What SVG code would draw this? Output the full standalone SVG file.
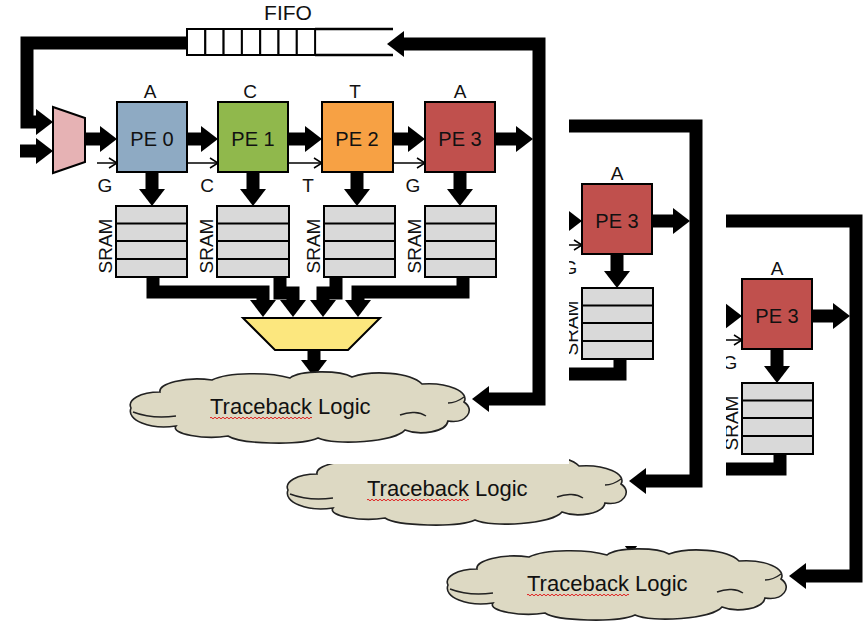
<svg xmlns="http://www.w3.org/2000/svg" xmlns:xlink="http://www.w3.org/1999/xlink" width="864" height="621" viewBox="0 0 864 621">
  <defs>
    <style>
      .big { fill: none; stroke: #000; stroke-width: 13; stroke-linejoin: miter; }
      .thin { fill: none; stroke: #000; stroke-width: 1.5; }
      .box { stroke: #000; stroke-width: 2; }
      .cell { fill: #fff; stroke: #000; stroke-width: 2; }
      .rail { fill: none; stroke: #000; stroke-width: 2.5; }
      .row { stroke: #000; stroke-width: 2; }
      .txt { font-family: "Liberation Sans", Arial, Helvetica, sans-serif; fill: #111; }
      .pe { font-size: 20px; text-anchor: middle; }
      .sym { font-size: 19px; text-anchor: middle; }
      .mem { font-size: 19px; text-anchor: middle; }
      .cloud { fill: #ddd9c3; stroke: #222; stroke-width: 1.6; }
      .crease { fill: none; stroke: #222; stroke-width: 1.4; }
      .squiggle { fill: none; stroke: #e02020; stroke-width: 1; }
    </style>
    <marker id="head" markerUnits="userSpaceOnUse" markerWidth="17" markerHeight="26" viewBox="0 0 17 26" refX="1" refY="13" orient="auto-start-reverse">
      <path d="M0,0 L17,13 L0,26 Z" fill="#000"/>
    </marker>
    <marker id="tip" markerUnits="userSpaceOnUse" markerWidth="10" markerHeight="12" viewBox="0 0 10 12" refX="9" refY="6" orient="auto">
      <path d="M1,1 L9,6 L1,11" fill="none" stroke="#000" stroke-width="1.5"/>
    </marker>
  </defs>

  <!-- stacked copies of the array stage, back to front -->
  <use xlink:href="#stage" href="#stage" transform="translate(317,177)"/>
  <use xlink:href="#stage" href="#stage" transform="translate(157,82)"/>

  <g id="stage">
    <rect x="0" y="0" width="569" height="464" fill="#fff"/>

    <g id="connectors">
      <!-- loop back from FIFO and second input into the input mux -->
      <path class="big" d="M188,43 H27 V122 H37" marker-end="url(#head)"/>
      <path class="big" d="M20,151 H37" marker-end="url(#head)"/>
      <!-- systolic data path -->
      <path class="big" d="M85,139 H101" marker-end="url(#head)"/>
      <path class="big" d="M187,139 H202" marker-end="url(#head)"/>
      <path class="big" d="M288,139 H306" marker-end="url(#head)"/>
      <path class="big" d="M393,139 H409" marker-end="url(#head)"/>
      <path class="big" d="M495,139 H517" marker-end="url(#head)"/>
      <!-- feedback to FIFO and traceback -->
      <path class="big" d="M488,399 H539 V44 H403" marker-start="url(#head)" marker-end="url(#head)"/>
      <!-- PE to SRAM -->
      <path class="big" d="M152,172 V190" marker-end="url(#head)"/>
      <path class="big" d="M253,172 V190" marker-end="url(#head)"/>
      <path class="big" d="M357,172 V190" marker-end="url(#head)"/>
      <path class="big" d="M460,172 V190" marker-end="url(#head)"/>
      <!-- SRAM to output mux -->
      <path class="big" d="M153,277 V292 H263 V301" marker-end="url(#head)"/>
      <path class="big" d="M280,277 V293 H293 V301" marker-end="url(#head)"/>
      <path class="big" d="M336,277 V293 H323 V301" marker-end="url(#head)"/>
      <path class="big" d="M463,277 V292 H358 V301" marker-end="url(#head)"/>
      <!-- output mux to traceback -->
      <path class="big" d="M314,350 V361" marker-end="url(#head)"/>
      <!-- query character lines -->
      <path class="thin" d="M97,163 H117" marker-end="url(#tip)"/>
      <path class="thin" d="M187,163 H218" marker-end="url(#tip)"/>
      <path class="thin" d="M288,163 H322" marker-end="url(#tip)"/>
      <path class="thin" d="M393,163 H425" marker-end="url(#tip)"/>
    </g>

    <g id="fifo">
      <rect class="cell" x="187" y="29" width="18.3" height="26"/>
      <rect class="cell" x="205.3" y="29" width="18.3" height="26"/>
      <rect class="cell" x="223.6" y="29" width="18.3" height="26"/>
      <rect class="cell" x="241.9" y="29" width="18.3" height="26"/>
      <rect class="cell" x="260.2" y="29" width="18.3" height="26"/>
      <rect class="cell" x="278.5" y="29" width="18.3" height="26"/>
      <rect class="cell" x="296.8" y="29" width="18.3" height="26"/>
      <path class="rail" d="M315,29 H393 M315,55 H393"/>
      <text class="txt" x="288" y="20" font-size="21" text-anchor="middle">FIFO</text>
    </g>

    <g id="mux-in">
      <polygon class="box" points="53,107 85,118 85,162 53,173" fill="#e6b2b4"/>
    </g>

    <g id="pe0">
      <rect class="box" x="117" y="102" width="70" height="70" fill="#8eaac3"/>
      <text class="txt pe" x="152" y="146">PE 0</text>
      <text class="txt sym" x="150" y="98">A</text>
      <text class="txt sym" x="105" y="192">G</text>
    </g>
    <g id="pe1">
      <rect class="box" x="218" y="102" width="70" height="70" fill="#90b84c"/>
      <text class="txt pe" x="253" y="146">PE 1</text>
      <text class="txt sym" x="250" y="98">C</text>
      <text class="txt sym" x="207" y="192">C</text>
    </g>
    <g id="pe2">
      <rect class="box" x="322" y="102" width="71" height="70" fill="#f7a144"/>
      <text class="txt pe" x="357" y="146">PE 2</text>
      <text class="txt sym" x="355" y="98">T</text>
      <text class="txt sym" x="308" y="192">T</text>
    </g>
    <g id="pe3">
      <rect class="box" x="425" y="102" width="70" height="70" fill="#c0504d"/>
      <text class="txt pe" x="460" y="146">PE 3</text>
      <text class="txt sym" x="460" y="98">A</text>
      <text class="txt sym" x="413" y="192">G</text>
    </g>

    <g id="sram0">
      <rect class="box" x="116" y="206" width="71" height="71" fill="#d9d9d9"/>
      <path class="row" d="M116,223.5 H187 M116,241 H187 M116,259 H187"/>
      <text class="txt mem" transform="translate(112,246) rotate(-90)">SRAM</text>
    </g>
    <g id="sram1">
      <rect class="box" x="217" y="206" width="72" height="71" fill="#d9d9d9"/>
      <path class="row" d="M217,223.5 H289 M217,241 H289 M217,259 H289"/>
      <text class="txt mem" transform="translate(213,246) rotate(-90)">SRAM</text>
    </g>
    <g id="sram2">
      <rect class="box" x="324" y="206" width="71" height="71" fill="#d9d9d9"/>
      <path class="row" d="M324,223.5 H395 M324,241 H395 M324,259 H395"/>
      <text class="txt mem" transform="translate(320,246) rotate(-90)">SRAM</text>
    </g>
    <g id="sram3">
      <rect class="box" x="425" y="206" width="71" height="71" fill="#d9d9d9"/>
      <path class="row" d="M425,223.5 H496 M425,241 H496 M425,259 H496"/>
      <text class="txt mem" transform="translate(421,246) rotate(-90)">SRAM</text>
    </g>

    <g id="mux-out">
      <polygon class="box" points="243,318 380,318 348,350 275,350" fill="#fce77e"/>
    </g>

    <g id="traceback">
      <path class="cloud" d="M131,408 C127,400 140,392 160,392 C158,384 185,376 212,380 C228,372 270,372 290,378 C300,370 340,370 352,377 C372,370 410,372 422,384 C448,382 470,392 464,402 C476,410 466,424 448,421 C446,432 420,436 405,430 C395,442 335,446 318,438 C300,446 240,444 228,436 C205,440 170,434 176,426 C150,430 126,420 131,408 Z"/>
      <path class="crease" d="M133,412 C146,417 162,418 176,416 M400,415 C410,411 420,412 426,416 M448,403 C455,403 460,400 464,397"/>
      <text class="txt" x="210" y="414" font-size="22">Traceback Logic</text>
      <path class="squiggle" d="M210,418 q1,-1.6 2,0 t2,0 t2,0 t2,0 t2,0 t2,0 t2,0 t2,0 t2,0 t2,0 t2,0 t2,0 t2,0 t2,0 t2,0 t2,0 t2,0 t2,0 t2,0 t2,0 t2,0 t2,0 t2,0 t2,0 t2,0 t2,0 t2,0 t2,0 t2,0 t2,0 t2,0 t2,0 t2,0 t2,0 t2,0 t2,0 t2,0 t2,0 t2,0 t2,0 t2,0 t2,0 t2,0 t2,0 t2,0 t2,0 t2,0 t2,0 t2,0 t2,0 t2,0"/>
    </g>
  </g>
</svg>
